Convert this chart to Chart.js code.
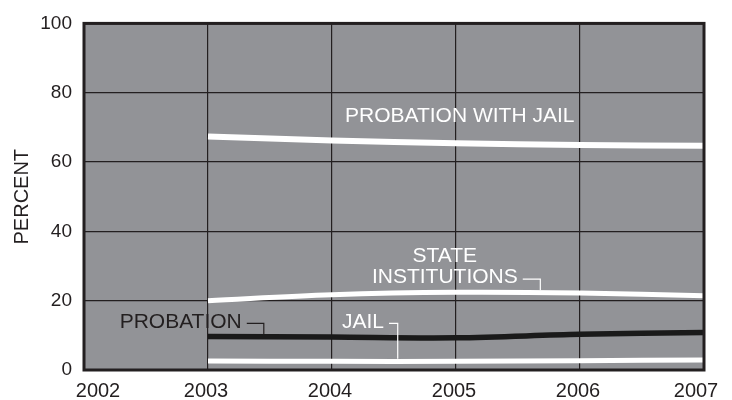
<!DOCTYPE html>
<html>
<head>
<meta charset="utf-8">
<script src="https://cdn.jsdelivr.net/npm/chart.js@4.4.0/dist/chart.umd.min.js"></script>
<style>
  html, body { margin: 0; padding: 0; background: #fff; }
  #wrap { width: 732px; height: 400px; }
</style>
</head>
<body>
<div id="wrap"><canvas id="chart" width="732" height="400"></canvas></div>
<script>
// values (percent)
const years = [2003, 2004, 2005, 2006, 2007];
const probationWithJail = [67.4, 66.2, 65.4, 64.9, 64.7];
const stateInstitutions = [20.0, 21.7, 22.4, 22.2, 21.4];
const probation = [9.7, 9.5, 9.3, 10.3, 10.8];
const jail = [2.6, 2.5, 2.5, 2.7, 2.9];

const xTicks = [2002, 2003, 2004, 2005, 2006, 2007];
const yTicks = [0, 20, 40, 60, 80, 100];

const INK = '#231f20';
const PLOT_BG = '#929397';
const FONT = '"Liberation Sans", Arial, sans-serif';

const toPoints = vals => vals.map((v, i) => ({ x: years[i], y: v }));

// labels on the plot: text anchor in data units, leader goes to dataset `to` at year `leaderX`
const notes = [
  { lines: ['PROBATION WITH JAIL'], x: 2005.03, y: 73.1, color: '#fff' },
  { lines: ['STATE', 'INSTITUTIONS'], x: 2004.91, y: 32.7, color: '#fff', to: 1, leaderX: 2005.68 },
  { lines: ['PROBATION'], x: 2002.78, y: 13.9, color: INK, to: 2, leaderX: 2003.45 },
  { lines: ['JAIL'], x: 2004.25, y: 13.9, color: '#fff', to: 3, leaderX: 2004.53 },
];

function lineYAt(chart, dsIndex, px) {
  const pts = chart.getDatasetMeta(dsIndex).data;
  for (let i = 0; i < pts.length - 1; i++) {
    const a = pts[i], b = pts[i + 1];
    if (px >= a.x && px <= b.x) {
      return a.y + (b.y - a.y) * (px - a.x) / (b.x - a.x);
    }
  }
  return pts[pts.length - 1].y;
}

const plotFrame = {
  id: 'plotFrame',
  beforeDraw(chart) {
    const { ctx, chartArea: a } = chart;
    ctx.save();
    ctx.fillStyle = PLOT_BG;
    ctx.fillRect(a.left, a.top, a.right - a.left, a.bottom - a.top);
    ctx.restore();
  },
  afterDatasetsDraw(chart) {
    const { ctx, chartArea: a, scales } = chart;
    ctx.save();
    ctx.strokeStyle = INK;
    ctx.lineWidth = 3;
    ctx.strokeRect(a.left, a.top, a.right - a.left, a.bottom - a.top);

    // year labels: the outer two are pulled inside the frame like in the print
    ctx.font = '20px ' + FONT;
    ctx.fillStyle = INK;
    ctx.textAlign = 'center';
    ctx.textBaseline = 'alphabetic';
    xTicks.forEach((v, i) => {
      let px = scales.x.getPixelForValue(v) - 2;
      if (i === 0) px += 16;
      if (i === xTicks.length - 1) px -= 6;
      ctx.fillText(String(v), px, a.bottom + 26.5);
    });

    ctx.font = '21px ' + FONT;
    ctx.textBaseline = 'middle';
    ctx.lineWidth = 1.2;
    notes.forEach(n => {
      const cx = scales.x.getPixelForValue(n.x);
      const cy = scales.y.getPixelForValue(n.y);
      const lh = 21;
      ctx.fillStyle = n.color;
      ctx.textAlign = 'center';
      n.lines.forEach((t, i) => {
        ctx.fillText(t, cx, cy + i * lh);
      });
      if (n.to !== undefined) {
        const last = n.lines[n.lines.length - 1];
        const ty = cy + (n.lines.length - 1) * lh + 1.5;
        const x0 = cx + ctx.measureText(last).width / 2 + 5;
        const x1 = scales.x.getPixelForValue(n.leaderX);
        const lw = chart.data.datasets[n.to].borderWidth;
        const y1 = lineYAt(chart, n.to, x1) - lw / 2;
        ctx.strokeStyle = n.color;
        ctx.beginPath();
        ctx.moveTo(x0, ty);
        ctx.lineTo(x1, ty);
        ctx.lineTo(x1, y1);
        ctx.stroke();
      }
    });
    ctx.restore();
  }
};

const lineStyle = (color, width) => ({
  borderColor: color,
  backgroundColor: color,
  borderWidth: width,
  pointRadius: 0,
  pointHoverRadius: 0,
  tension: 0.35,
  fill: false,
  borderCapStyle: 'butt',
});

new Chart(document.getElementById('chart'), {
  type: 'line',
  data: {
    datasets: [
      { label: 'Probation with jail', data: toPoints(probationWithJail), ...lineStyle('#fff', 6) },
      { label: 'State institutions', data: toPoints(stateInstitutions), ...lineStyle('#fff', 5) },
      { label: 'Probation', data: toPoints(probation), ...lineStyle('#1a1a1a', 5.5) },
      { label: 'Jail', data: toPoints(jail), ...lineStyle('#fff', 5) },
    ],
  },
  options: {
    responsive: false,
    animation: false,
    layout: { padding: { left: 0, right: 28, top: 20, bottom: 0 } },
    plugins: {
      legend: { display: false },
      tooltip: { enabled: false },
    },
    scales: {
      x: {
        type: 'linear',
        min: xTicks[0],
        max: xTicks[xTicks.length - 1],
        afterBuildTicks: scale => { scale.ticks = xTicks.map(v => ({ value: v })); },
        afterFit: scale => { scale.height = 30; },
        border: { display: false },
        grid: { color: INK, lineWidth: 1.2, drawTicks: false },
        ticks: { display: false },
      },
      y: {
        min: yTicks[0],
        max: yTicks[yTicks.length - 1],
        afterBuildTicks: scale => { scale.ticks = yTicks.map(v => ({ value: v })); },
        afterFit: scale => { scale.width = 84; },
        border: { display: false },
        grid: { color: INK, lineWidth: 1.2, drawTicks: false },
        ticks: {
          padding: 12,
          color: INK,
          font: { family: FONT, size: 19 },
        },
        title: {
          display: true,
          text: 'PERCENT',
          color: INK,
          font: { family: FONT, size: 20 },
          padding: { top: 10, bottom: 0 },
        },
      },
    },
  },
  plugins: [plotFrame],
});
</script>
</body>
</html>
